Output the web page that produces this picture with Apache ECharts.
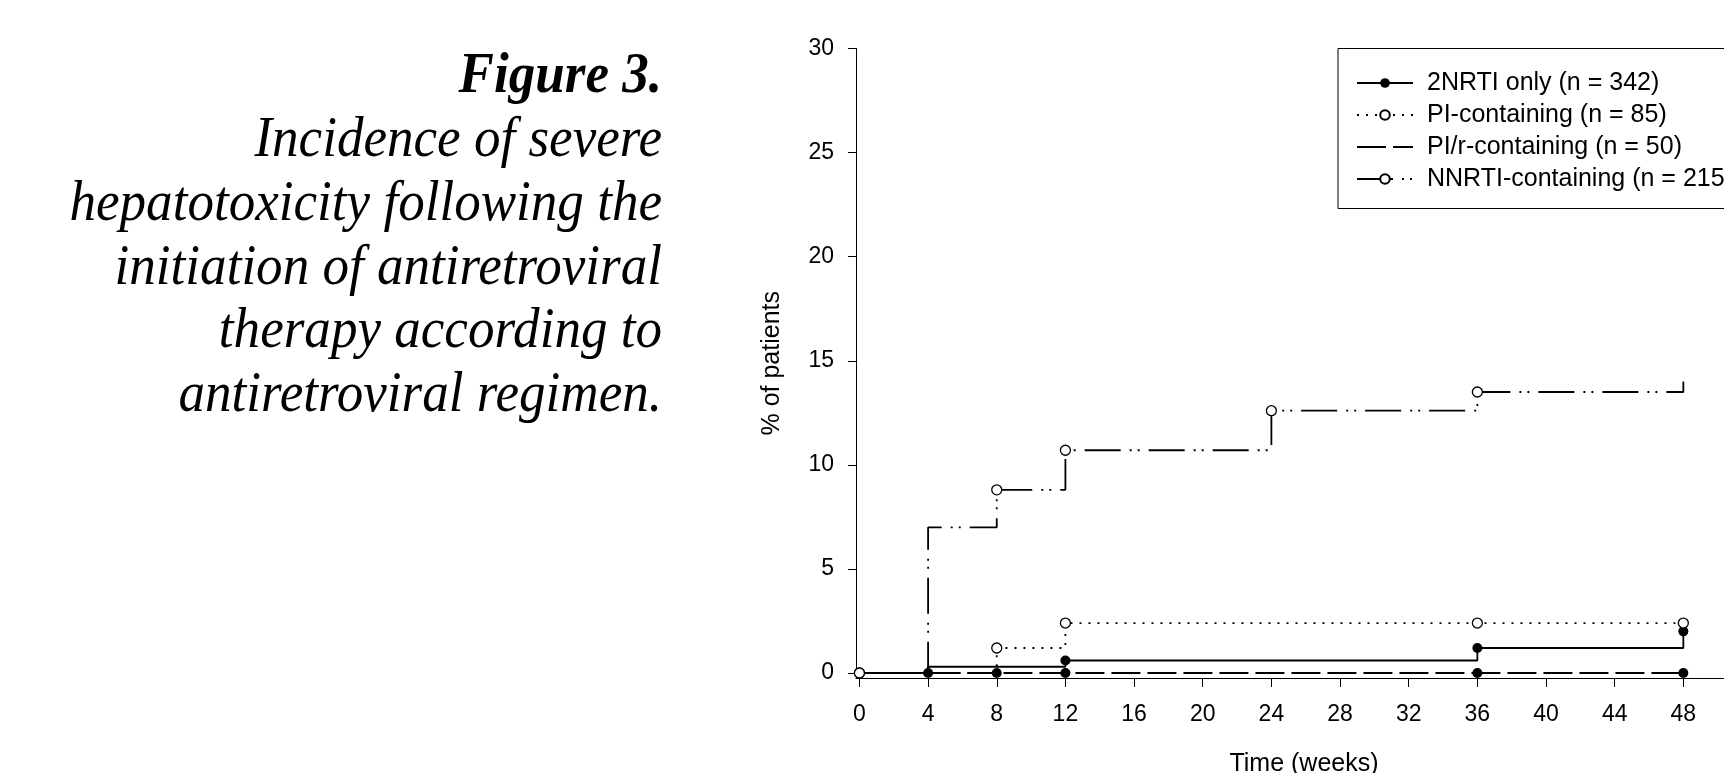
<!DOCTYPE html>
<html><head><meta charset="utf-8">
<script src="https://cdn.jsdelivr.net/npm/echarts@6/dist/echarts.min.js"></script>
<style>html,body{margin:0;padding:0;background:#fff}#c{width:1724px;height:773px}</style>
</head><body><div id="c"></div>
<script>
const weeks = [0, 4, 8, 12, 24, 36, 48];
const seriesNames = ['2NRTI only (n = 342)', 'PI-containing (n = 85)', 'PI/r-containing (n = 50)', 'NNRTI-containing (n = 215)'];
const nrti2Vals = [0, 0.3, 0.3, 0.6, 0.6, 1.2, 2.0];
const piVals = [0, 0, 1.2, 2.4, 2.4, 2.4, 2.4];
const pirVals = [0, 0, 0, 0, 0, 0, 0];
const nnrtiVals = [0, 7.0, 8.8, 10.7, 12.6, 13.5, 14.0];
const nrti2Marks = [0, 0, 0, 1, 0, 1, 1];
const piMarks = [1, 0, 1, 1, 0, 1, 1];
const pirMarks = [0, 1, 1, 1, 0, 1, 1];
const nnrtiMarks = [1, 0, 1, 1, 1, 1, 0];
const xTicks = [0, 4, 8, 12, 16, 20, 24, 28, 32, 36, 40, 44, 48];
const yTicks = [0, 5, 10, 15, 20, 25, 30];
const titleLines = ['Figure 3.', 'Incidence of severe', 'hepatotoxicity following the', 'initiation of antiretroviral', 'therapy according to', 'antiretroviral regimen.'];

const SANS = 'Liberation Sans, Arial, sans-serif';
const SERIF = 'Liberation Serif, Times New Roman, serif';

function mk(name, vals, marks, dash, filled) {
  return {
    type: 'line', name: name, step: 'end',
    data: weeks.map((w, i) => ({ value: [w, vals[i]], symbol: marks[i] ? 'circle' : 'none' })),
    symbol: 'circle', symbolSize: 10, showAllSymbol: true,
    lineStyle: { color: '#000', width: 1.8, type: dash, cap: 'butt' },
    itemStyle: { color: filled ? '#000' : '#fff', borderColor: '#000', borderWidth: filled ? 0 : 1.3 },
    emphasis: { disabled: true }, silent: true
  };
}

const chart = echarts.init(document.getElementById('c'), null, { renderer: 'canvas' });
chart.setOption({
  animation: false,
  backgroundColor: '#fff',
  graphic: titleLines.map((t, i) => ({
    type: 'text', x: 662, y: 77 + 63.8 * i, scaleX: 0.915,
    style: {
      text: t, align: 'right', verticalAlign: 'middle',
      font: (i === 0 ? 'italic bold ' : 'italic ') + '58px ' + SERIF, fill: '#000'
    }
  })),
  grid: { left: 856, top: 48.5, right: -28, bottom: 95, outerBoundsMode: 'none', containLabel: false },
  legend: {
    orient: 'vertical', left: 1338, top: 48.5,
    padding: [22, 30, 17, 18], itemGap: 7, itemWidth: 56, itemHeight: 12,
    borderColor: '#000', borderWidth: 1, borderRadius: 0,
    selectedMode: false,
    textStyle: { fontFamily: SANS, fontSize: 25, color: '#000', lineHeight: 25, padding: [0, 0, 0, 9] },
    data: [
      { name: seriesNames[0] },
      { name: seriesNames[1] },
      { name: seriesNames[2], itemStyle: { opacity: 0 } },
      { name: seriesNames[3] }
    ]
  },
  xAxis: {
    type: 'value', min: -0.2, max: 52,
    axisLine: { show: true, onZero: false, lineStyle: { color: '#000', width: 1 } },
    axisTick: { show: true, customValues: xTicks, length: 9, lineStyle: { color: '#000', width: 1 } },
    axisLabel: { customValues: xTicks, fontFamily: SANS, fontSize: 23, color: '#000', margin: 25 },
    splitLine: { show: false },
    name: 'Time (weeks)', nameLocation: 'middle', nameGap: 74,
    nameTextStyle: { fontFamily: SANS, fontSize: 25, color: '#000' }
  },
  yAxis: {
    type: 'value', min: -0.24, max: 30,
    axisLine: { show: true, onZero: false, lineStyle: { color: '#000', width: 1 } },
    axisTick: { show: true, customValues: yTicks, length: 8, lineStyle: { color: '#000', width: 1 } },
    axisLabel: { customValues: yTicks, fontFamily: SANS, fontSize: 23, color: '#000', margin: 22 },
    splitLine: { show: false },
    name: '% of patients', nameLocation: 'middle', nameGap: 71,
    nameTextStyle: { fontFamily: SANS, fontSize: 25, color: '#000' }
  },
  series: [
    mk(seriesNames[0], nrti2Vals, nrti2Marks, 'solid', true),
    mk(seriesNames[1], piVals, piMarks, [2, 7], false),
    mk(seriesNames[2], pirVals, pirMarks, [29, 7], true),
    mk(seriesNames[3], nnrtiVals, nnrtiMarks, [36, 9, 2, 6, 2, 9], false)
  ]
});
</script></body></html>
